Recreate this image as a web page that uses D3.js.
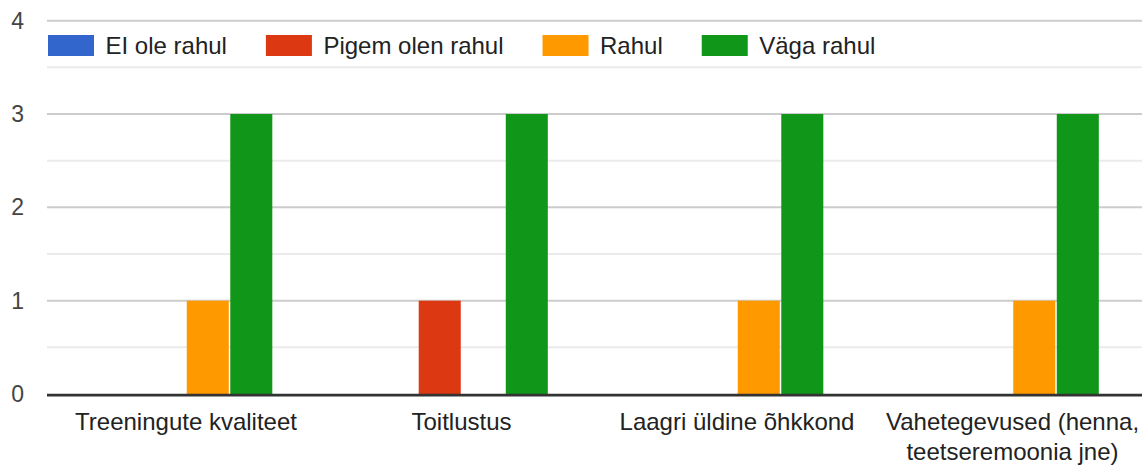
<!DOCTYPE html>
<html><head><meta charset="utf-8">
<script src="https://cdn.jsdelivr.net/npm/d3@7"></script>
<style>
html,body{margin:0;padding:0;background:#fff;}
svg{display:block;font-family:"Liberation Sans",Arial,sans-serif;}
</style></head>
<body>
<svg id="chart" width="1142" height="465"></svg>
<script>
const categories = [["Treeningute kvaliteet"],["Toitlustus"],["Laagri üldine õhkkond"],["Vahetegevused (henna,","teetseremoonia jne)"]];
const series = ["EI ole rahul","Pigem olen rahul","Rahul","Väga rahul"];
const colors = ["#3366cc","#dc3912","#ff9900","#109618"];
const valuesEIole = [0,0,0,0];
const valuesPigem = [0,1,0,0];
const valuesRahul = [1,0,1,1];
const valuesVaga  = [3,3,3,3];
const yTicks = [0,1,2,3,4];
const yMinor = [0.5,1.5,2.5,3.5];

const seriesValues = [valuesEIole,valuesPigem,valuesRahul,valuesVaga];
const svg = d3.select("#chart");
const W = 1142;

const y = d3.scaleLinear().domain([0,4]).range([394,20.7]);
const x0 = d3.scaleBand().domain(d3.range(categories.length)).range([48.25,1150.25]).paddingInner(0.368).paddingOuter(0.184);
const x1 = d3.scaleBand().domain(series).range([0,x0.bandwidth()]);

// minor gridlines
svg.append("g").selectAll("line").data(yMinor).join("line")
  .attr("x1",47).attr("x2",W).attr("y1",d=>y(d)).attr("y2",d=>y(d))
  .attr("stroke","#ebebeb").attr("stroke-width",2);
// major gridlines
svg.append("g").selectAll("line").data(yTicks.filter(d=>d>0)).join("line")
  .attr("x1",47).attr("x2",W).attr("y1",d=>y(d)).attr("y2",d=>y(d))
  .attr("stroke","#cccccc").attr("stroke-width",2);

// y axis labels
const yAxis = d3.axisLeft(y).tickValues(yTicks).tickSize(0).tickPadding(0).tickFormat(d3.format("d"));
const ya = svg.append("g").attr("transform","translate(24,0)").call(yAxis);
ya.select(".domain").remove();
ya.selectAll("text").attr("font-size",23).attr("fill","#444").attr("font-family","Liberation Sans, Arial, sans-serif");

// bars
const groups = svg.append("g").selectAll("g").data(categories).join("g")
  .attr("transform",(d,i)=>`translate(${x0(i)},0)`);
groups.each(function(c,i){
  d3.select(this).selectAll("rect").data(series.map((s,j)=>({s,j,v:seriesValues[j][i]})).filter(d=>d.v>0)).join("rect")
    .attr("x",d=>x1(d.s)+0.75).attr("width",x1.bandwidth()-1.5)
    .attr("y",d=>y(d.v)).attr("height",d=>y(0)-y(d.v))
    .attr("fill",d=>colors[d.j]);
});

// baseline
svg.append("line").attr("x1",47).attr("x2",W).attr("y1",y(0)+1.2).attr("y2",y(0)+1.2)
  .attr("stroke","#333").attr("stroke-width",2.7);

// category labels
const xAxis = d3.axisBottom(x0).tickSize(0).tickFormat("");
const xa = svg.append("g").attr("transform",`translate(0,${y(0)})`).call(xAxis);
xa.select(".domain").remove();
xa.selectAll(".tick").each(function(d){
  const t = d3.select(this).append("text").attr("fill","#222").attr("font-size",24)
    .attr("text-anchor","middle").attr("font-family","Liberation Sans, Arial, sans-serif");
  categories[d].forEach((line,k)=>{
    t.append("tspan").attr("x",0).attr("y",36+k*30).text(line);
  });
});

// legend
const leg = svg.append("g");
let lx = 48;
series.forEach((s,j)=>{
  leg.append("rect").attr("x",lx).attr("y",35).attr("width",46).attr("height",21).attr("fill",colors[j]);
  const t = leg.append("text").attr("x",lx+57.5).attr("y",54).attr("font-size",24).attr("fill","#222").text(s);
  lx = lx + 57.5 + t.node().getComputedTextLength() + 39;
});
</script>
</body></html>
